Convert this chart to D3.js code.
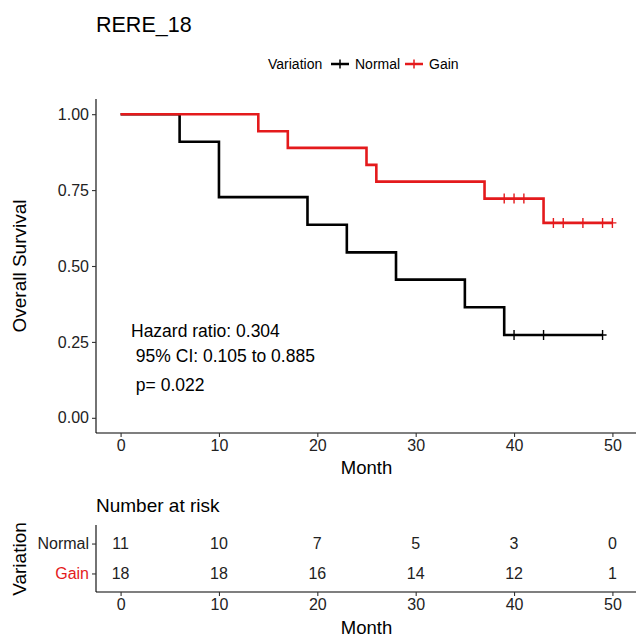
<!DOCTYPE html>
<html>
<head>
<meta charset="utf-8">
<script src="https://cdn.jsdelivr.net/npm/d3@7"></script>
<style>
  body { margin: 0; background: #fff; }
  text { font-family: "Liberation Sans", Arial, sans-serif; }
</style>
</head>
<body>
<div id="chart"></div>
<script>
// data
const groups = ["Normal", "Gain"];
const colors = ["#000000", "#e41a1c"];

const normalTime = [0, 6, 10, 19, 23, 28, 35, 39, 49];
const normalSurv = [1, 0.909, 0.727, 0.636, 0.545, 0.455, 0.364, 0.273, 0.273];
const normalCensor = [40, 43, 49];

const gainTime = [0, 14, 17, 25, 26, 37, 43, 50];
const gainSurv = [1, 0.944, 0.889, 0.833, 0.778, 0.722, 0.642, 0.642];
const gainCensor = [39, 40, 41, 44, 45, 47, 49, 50];

const monthTicks = [0, 10, 20, 30, 40, 50];
const survTicks = [0, 0.25, 0.5, 0.75, 1];
const riskNormal = [11, 10, 7, 5, 3, 0];
const riskGain = [18, 18, 16, 14, 12, 1];

const annot = ["Hazard ratio: 0.304", " 95% CI: 0.105 to 0.885", " p= 0.022"];

let width = 636, height = 637;

let svg = d3.select("#chart").append("svg")
  .attr("width", width)
  .attr("height", height);

//scales (ggplot style 5% expansion)
let x = d3.scaleLinear().domain([-2.5, 52.5]).range([96, 637]);
let y = d3.scaleLinear().domain([-0.05, 1.05]).range([433, 99]);

//title
svg.append("text")
  .attr("x", 96).attr("y", 24)
  .attr("dy", "0.35em")
  .style("font-size", "21.5px")
  .text("RERE_18");

//legend
let leg = svg.append("g").attr("transform", "translate(0,64)");
leg.append("text").attr("x", 268).attr("dy", "0.35em")
  .style("font-size", "14px").text("Variation");
let legX = [331, 405];
groups.forEach(function (g, i) {
  leg.append("line").attr("x1", legX[i]).attr("x2", legX[i] + 18)
    .attr("stroke", colors[i]).attr("stroke-width", 2.5);
  leg.append("line").attr("x1", legX[i] + 9).attr("x2", legX[i] + 9)
    .attr("y1", -4.5).attr("y2", 4.5)
    .attr("stroke", colors[i]).attr("stroke-width", 1.5);
  leg.append("text").attr("x", legX[i] + 24).attr("dy", "0.35em")
    .style("font-size", "14px").text(g);
});

//axes
let xAxis = d3.axisBottom(x).tickValues(monthTicks).tickSize(4).tickPadding(3);
let yAxis = d3.axisLeft(y).tickValues(survTicks).tickSize(4).tickPadding(3)
  .tickFormat(d3.format(".2f"));

let gx = svg.append("g").attr("transform", "translate(0,433)").call(xAxis);
let gy = svg.append("g").attr("transform", "translate(96,0)").call(yAxis);
[gx, gy].forEach(function (g) {
  g.select(".domain").attr("stroke", "#000").attr("stroke-width", 1.1);
  g.selectAll(".tick line").attr("stroke", "#333").attr("stroke-width", 1.1);
  g.selectAll(".tick text").attr("fill", "#222").style("font-size", "16px")
    .style("font-family", "Liberation Sans, Arial, sans-serif");
});
gy.select(".domain").attr("d", "M0,99V433");
gx.select(".domain").attr("d", "M96,0H637");

svg.append("text")
  .attr("x", x(25)).attr("y", 468).attr("dy", "0.35em")
  .attr("text-anchor", "middle").style("font-size", "18.5px")
  .text("Month");
svg.append("text")
  .attr("transform", "translate(19," + y(0.5) + ") rotate(-90)")
  .attr("dy", "0.35em")
  .attr("text-anchor", "middle").style("font-size", "19px")
  .text("Overall Survival");

//survival curves
let line = d3.line()
  .x(function (d) { return x(d[0]); })
  .y(function (d) { return y(d[1]); })
  .curve(d3.curveStepAfter);

let curves = [
  { times: normalTime, surv: normalSurv, cens: normalCensor },
  { times: gainTime, surv: gainSurv, cens: gainCensor }
];

curves.forEach(function (c, i) {
  let pts = c.times.map(function (t, j) { return [t, c.surv[j]]; });
  svg.append("path")
    .attr("d", line(pts))
    .attr("fill", "none")
    .attr("stroke", colors[i])
    .attr("stroke-width", 2.6);

  //censor marks
  let survAt = function (t) {
    let s = 1;
    for (let j = 0; j < c.times.length; j++) if (c.times[j] <= t) s = c.surv[j];
    return s;
  };
  svg.append("g").selectAll("path")
    .data(c.cens)
    .enter().append("path")
    .attr("d", function (t) {
      let cx = x(t), cy = y(survAt(t));
      return "M" + (cx - 4) + "," + cy + "H" + (cx + 4) + "M" + cx + "," + (cy - 5) + "V" + (cy + 5);
    })
    .attr("stroke", colors[i])
    .attr("stroke-width", 1.4);
});

//hazard ratio annotation
let annY = [331, 356, 385];
annot.forEach(function (t, i) {
  svg.append("text")
    .attr("x", 131).attr("y", annY[i]).attr("dy", "0.35em")
    .attr("xml:space", "preserve")
    .style("white-space", "pre")
    .style("font-size", "17.5px")
    .text(t);
});

//risk table
svg.append("text")
  .attr("x", 96).attr("y", 505).attr("dy", "0.35em")
  .style("font-size", "19px")
  .text("Number at risk");

let ry = d3.scalePoint().domain(["Gain", "Normal"]).range([592, 525]).padding(0.62);

let rx = d3.axisBottom(x).tickValues(monthTicks).tickSize(4).tickPadding(3);
let rgx = svg.append("g").attr("transform", "translate(0,592)").call(rx);
let rgy = svg.append("g").attr("transform", "translate(96,0)")
  .call(d3.axisLeft(ry).tickSize(4).tickPadding(3));
[rgx, rgy].forEach(function (g) {
  g.select(".domain").attr("stroke", "#000").attr("stroke-width", 1.1);
  g.selectAll(".tick line").attr("stroke", "#333").attr("stroke-width", 1.1);
  g.selectAll(".tick text").attr("fill", "#222").style("font-size", "16px")
    .style("font-family", "Liberation Sans, Arial, sans-serif");
});
rgx.select(".domain").attr("d", "M96,0H637");
rgy.select(".domain").attr("d", "M0,525V592");
rgy.selectAll(".tick text").attr("fill", function (d) { return d === "Gain" ? colors[1] : "#222"; });

let riskRows = [riskNormal, riskGain];
groups.forEach(function (g, i) {
  svg.append("g").selectAll("text")
    .data(riskRows[i])
    .enter().append("text")
    .attr("x", function (d, j) { return x(monthTicks[j]); })
    .attr("y", ry(g))
    .attr("dy", "0.35em")
    .attr("text-anchor", "middle")
    .style("font-size", "16px")
    .attr("fill", "#222")
    .text(function (d) { return d; });
});

svg.append("text")
  .attr("x", x(25)).attr("y", 628).attr("dy", "0.35em")
  .attr("text-anchor", "middle").style("font-size", "18.5px")
  .text("Month");
svg.append("text")
  .attr("transform", "translate(19," + 559 + ") rotate(-90)")
  .attr("dy", "0.35em")
  .attr("text-anchor", "middle").style("font-size", "19px")
  .text("Variation");
</script>
</body>
</html>
